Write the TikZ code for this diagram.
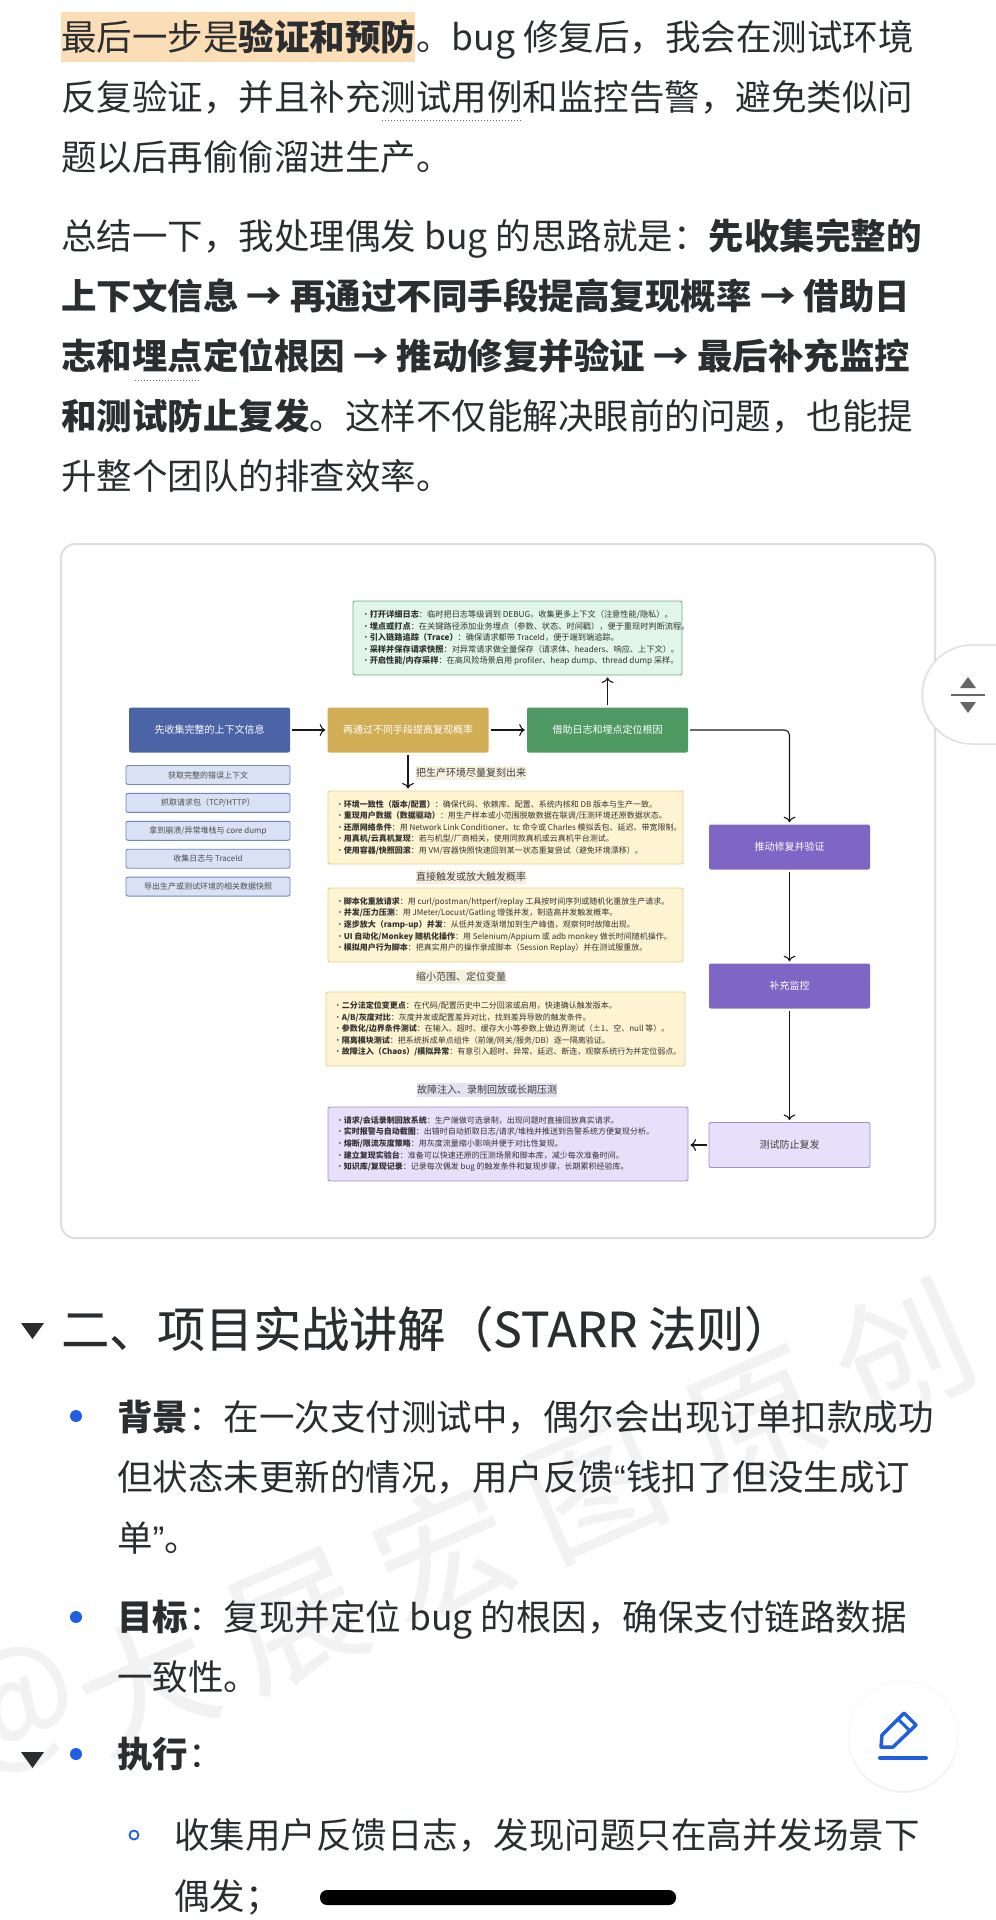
\documentclass[tikz,border=0pt]{standalone}
\usepackage{fontspec}
\setmainfont{Noto Sans CJK SC}
\newfontfamily\latinq{Liberation Sans}
\newfontfamily\headfont[FakeBold=0.35]{Noto Sans CJK SC}
\usetikzlibrary{positioning,calc,shadows,arrows.meta}

\definecolor{inkc}{HTML}{2B2E31}
\definecolor{markc}{HTML}{FBDDB6}
\definecolor{cardc}{HTML}{DEDEDE}
\definecolor{bluec}{HTML}{4B64A6}
\definecolor{goldc}{HTML}{D1AE55}
\definecolor{greenc}{HTML}{4F9A62}
\definecolor{violetc}{HTML}{8066C4}
\definecolor{subfill}{HTML}{D9E1F5}
\definecolor{subline}{HTML}{6F88BC}
\definecolor{greenfill}{HTML}{E1F5E8}
\definecolor{greenline}{HTML}{6FAE85}
\definecolor{yelfill}{HTML}{FFF4D1}
\definecolor{yelline}{HTML}{E3D08A}
\definecolor{lilfill}{HTML}{E6E0FA}
\definecolor{lilline}{HTML}{9F92C6}
\definecolor{capyel}{HTML}{F6F0DF}
\definecolor{caplil}{HTML}{E4E1F2}
\definecolor{linkc}{HTML}{1F5FE0}
\newcommand{\itemline}[2]{\makebox[8pt][l]{•}\textbf{#1}：#2}

\begin{document}
\begin{tikzpicture}[x=1pt,y=1pt,>={To[scale=1.4]}]
\tikzset{
  body/.style={anchor=base west,inner sep=0pt,text=inkc,font=\fontsize{35.5}{36}\selectfont},
  stepbox/.style={draw=none,fill=#1,rounded corners=2pt,minimum width=161pt,minimum height=45pt,inner sep=0pt,
    text=white,font=\fontsize{10}{10}\selectfont},
  subbox/.style={draw=subline,line width=.9pt,fill=subfill,rounded corners=2pt,minimum width=164pt,minimum height=19pt,
    inner sep=0pt,text=black!70,font=\fontsize{8}{8}\selectfont},
  listbox/.style={rounded corners=2pt,line width=.9pt,inner sep=0pt},
  listtext/.style={align=left,inner sep=0pt,text=black!80,font=\fontsize{8}{11.6}\selectfont},
  caption/.style={anchor=west,inner xsep=0pt,inner ysep=2pt,text=black!75,font=\fontsize{10}{10}\selectfont},
  flow/.style={->,line width=1.1pt,black!90,shorten >=2pt,shorten <=2pt},
  wmark/.style={rotate=23.6,text=black!5,inner sep=0pt,font=\headfont\fontsize{135}{135}\selectfont},
};
\useasboundingbox (0,0) rectangle (996,-1920);
\fill[white] (0,0) rectangle (996,-1920);

% watermark
\begin{scope}
\clip (0,0) rectangle (996,-1920);
\node[wmark] (mark) at (524,-1517) {大\hspace{28pt}展\hspace{28pt}宏\hspace{28pt}图\hspace{40pt}原\hspace{28pt}创};
\node[wmark] (markat) at (15,-1710) {@};
\end{scope}

% text above the chart
\fill[markc] (61,-12) rectangle (415,-62);
\node[body] (p1) at (61,-50) {最后一步是\textbf{验证和预防}。bug 修复后，我会在测试环境};
\node[body] (p2) at (61,-110) {反复验证，并且补充测试用例和监控告警，避免类似问};
\node[body] (p3) at (61,-170) {题以后再偷偷溜进生产。};
\draw[black!60,line width=1pt,dotted] (382,-120) -- (522,-120);
\node[body] (q1) at (61,-249) {总结一下，我处理偶发 bug 的思路就是：\textbf{先收集完整的}};
\node[body] (q2) at (61,-309) {\textbf{上下文信息 → 再通过不同手段提高复现概率 → 借助日}};
\node[body] (q3) at (61,-369) {\textbf{志和埋点定位根因 → 推动修复并验证 → 最后补充监控}};
\node[body] (q4) at (61,-429) {\textbf{和测试防止复发}。这样不仅能解决眼前的问题，也能提};
\node[body] (q5) at (61,-489) {升整个团队的排查效率。};
\draw[black!60,line width=1pt,dotted] (135,-380) -- (200,-380);

% chart
\draw[cardc,line width=2pt,rounded corners=14pt,fill=white] (61,-544) rectangle (935,-1238);

\node[stepbox=bluec] (collect) at (209.5,-730) {先收集完整的上下文信息};
\node[stepbox=goldc] (probe) at (408,-730) {再通过不同手段提高复现概率};
\node[stepbox=greenc] (locate) at (607.5,-730) {借助日志和埋点定位根因};
\node[stepbox=violetc] (fix) at (789.5,-847) {推动修复并验证};
\node[stepbox=violetc] (watch) at (789.5,-986) {补充监控};
\node[stepbox=lilfill,draw=lilline,line width=.9pt,text=black!75] (guard) at (789.5,-1145) {测试防止复发};

\node[subbox] (sub1) at (208,-775) {获取完整的错误上下文};
\node[subbox,below=8pt of sub1] (sub2) {抓取请求包（TCP/HTTP）};
\node[subbox,below=8pt of sub2] (sub3) {拿到崩溃/异常堆栈与 core dump};
\node[subbox,below=8pt of sub3] (sub4) {收集日志与 TraceId};
\node[subbox,below=8pt of sub4] (sub5) {导出生产或测试环境的相关数据快照};

\node[listbox,draw=greenline,fill=greenfill,minimum width=329pt,minimum height=74pt] (trace) at (517.5,-638) {};
\node[listtext,font=\fontsize{8.2}{11.6}\selectfont,right=9pt of trace.west] (tracetext) {%
\itemline{打开详细日志}{临时把日志等级调到 DEBUG，收集更多上下文（注意性能/隐私）。}\\
\itemline{埋点或打点}{在关键路径添加业务埋点（参数、状态、时间戳），便于重现时判断流程。}\\
\itemline{引入链路追踪（Trace）}{确保请求都带 TraceId，便于端到端追踪。}\\
\itemline{采样并保存请求快照}{对异常请求做全量保存（请求体、headers、响应、上下文）。}\\
\itemline{开启性能/内存采样}{在高风险场景启用 profiler、heap dump、thread dump 采样。}};

\node[caption,fill=capyel] (cap1) at (416,-773) {把生产环境尽量复刻出来};
\node[listbox,draw=yelline,fill=yelfill,minimum width=355pt,minimum height=73pt] (env) at (505.5,-827.5) {};
\node[listtext,right=8pt of env.west] (envtext) {%
\itemline{环境一致性（版本/配置）}{确保代码、依赖库、配置、系统内核和 DB 版本与生产一致。}\\
\itemline{重现用户数据（数据驱动）}{用生产样本或小范围脱敏数据在联调/压测环境还原数据状态。}\\
\itemline{还原网络条件}{用 Network Link Conditioner、tc 命令或 Charles 模拟丢包、延迟、带宽限制。}\\
\itemline{用真机/云真机复现}{若与机型/厂商相关，使用同款真机或云真机平台测试。}\\
\itemline{使用容器/快照回滚}{用 VM/容器快照快速回到某一状态重复尝试（避免环境漂移）。}};

\node[caption,fill=capyel] (cap2) at (416,-877) {直接触发或放大触发概率};
\node[listbox,draw=yelline,fill=yelfill,minimum width=355pt,minimum height=74pt] (raise) at (505.5,-925) {};
\node[listtext,right=8pt of raise.west] (raisetext) {%
\itemline{脚本化重放请求}{用 curl/postman/httperf/replay 工具按时间序列或随机化重放生产请求。}\\
\itemline{并发/压力压测}{用 JMeter/Locust/Gatling 增强并发，制造高并发触发概率。}\\
\itemline{逐步放大（ramp-up）并发}{从低并发逐渐增加到生产峰值，观察何时故障出现。}\\
\itemline{UI 自动化/Monkey 随机化操作}{用 Selenium/Appium 或 adb monkey 做长时间随机操作。}\\
\itemline{模拟用户行为脚本}{把真实用户的操作录成脚本（Session Replay）并在测试服重放。}};

\node[caption,fill=capyel] (cap3) at (416,-977) {缩小范围、定位变量};
\node[listbox,draw=yelline,fill=yelfill,minimum width=359pt,minimum height=74pt] (narrow) at (505.5,-1029) {};
\node[listtext,right=8pt of narrow.west] (narrowtext) {%
\itemline{二分法定位变更点}{在代码/配置历史中二分回滚或启用，快速确认触发版本。}\\
\itemline{A/B/灰度对比}{灰度并发或配置差异对比，找到差异导致的触发条件。}\\
\itemline{参数化/边界条件测试}{在输入、超时、缓存大小等参数上做边界测试（±1、空、null 等）。}\\
\itemline{隔离模块测试}{把系统拆成单点组件（前端/网关/服务/DB）逐一隔离验证。}\\
\itemline{故障注入（Chaos）/模拟异常}{有意引入超时、异常、延迟、断连，观察系统行为并定位弱点。}};

\node[caption,fill=caplil] (cap4) at (417,-1090) {故障注入、录制回放或长期压测};
\node[listbox,draw=lilline,fill=lilfill,minimum width=360pt,minimum height=74pt] (record) at (508,-1144) {};
\node[listtext,right=8pt of record.west] (recordtext) {%
\itemline{请求/会话录制回放系统}{生产端做可选录制，出现问题时直接回放真实请求。}\\
\itemline{实时报警与自动截图}{出错时自动抓取日志/请求/堆栈并推送到告警系统方便复现分析。}\\
\itemline{熔断/限流灰度策略}{用灰度流量缩小影响并便于对比性复现。}\\
\itemline{建立复现实验台}{准备可以快速还原的压测场景和脚本库，减少每次准备时间。}\\
\itemline{知识库/复现记录}{记录每次偶发 bug 的触发条件和复现步骤，长期累积经验库。}};

\draw[flow] (collect) -- (probe);
\draw[flow] (probe) -- (locate);
\draw[flow] (locate.north) -- (locate.north |- trace.south);
\draw[flow] (probe.south) -- (probe.south |- env.north);
\draw[flow,rounded corners=5pt] (locate.east) -| (fix.north);
\draw[flow] (fix) -- (watch);
\draw[flow] (watch) -- (guard);
\draw[flow] (guard.west) -- (guard.west -| record.east);

% text below the chart
\fill[inkc] (21,-1323) -- (44,-1323) -- (32.5,-1339) -- cycle;
\node[body,font=\headfont\fontsize{48}{48}\selectfont] (head) at (61,-1347) {二、项目实战讲解（STARR 法则）};

\fill[linkc] (76,-1416) circle (6);
\node[body] (r1) at (117,-1430) {\textbf{背景}：在一次支付测试中，偶尔会出现订单扣款成功};
\node[body] (r2) at (117,-1490) {但状态未更新的情况，用户反馈{\latinq “}钱扣了但没生成订};
\node[body] (r3) at (117,-1551) {单{\latinq ”}。};
\fill[linkc] (76,-1617) circle (6);
\node[body] (g1) at (117,-1630) {\textbf{目标}：复现并定位 bug 的根因，确保支付链路数据};
\node[body] (g2) at (117,-1690) {一致性。};
\fill[inkc] (21,-1752) -- (44,-1752) -- (32.5,-1768) -- cycle;
\fill[linkc] (76,-1754) circle (6);
\node[body] (e1) at (117,-1767) {\textbf{执行}：};
\draw[linkc,line width=1.8pt] (134,-1835) circle (4.5);
\node[body] (e2) at (174,-1848) {收集用户反馈日志，发现问题只在高并发场景下};
\node[body] (e3) at (174,-1909) {偶发；};

% floating controls
\fill[white,draw=black!12,line width=1.5pt,drop shadow={opacity=.08,shadow xshift=-2pt,shadow yshift=0pt}]
  (1010,-645) -- (972,-645) arc[start angle=90,end angle=270,radius=49.5] -- (1010,-744) -- cycle;
\draw[black!60,line width=2.5pt] (951,-695) -- (985,-695);
\fill[black!60] (968,-677) -- (976,-688) -- (960,-688) -- cycle;
\fill[black!60] (968,-713) -- (976,-702) -- (960,-702) -- cycle;

\fill[white,draw=black!6,drop shadow={opacity=.1,shadow xshift=0pt,shadow yshift=-2pt}] (903,-1736) circle (55);
\draw[linkc,line width=3.5pt,line join=round] (881,-1747) -- (882,-1735) -- (904,-1713) -- (916,-1725) -- (893,-1747) -- cycle;
\draw[linkc,line width=3pt] (898,-1719) -- (910,-1731);
\draw[linkc,line width=4pt,line cap=round] (880,-1758) -- (926,-1758);

\fill[black,rounded corners=7pt] (320,-1890) rectangle (676,-1905);
\end{tikzpicture}
\end{document}
